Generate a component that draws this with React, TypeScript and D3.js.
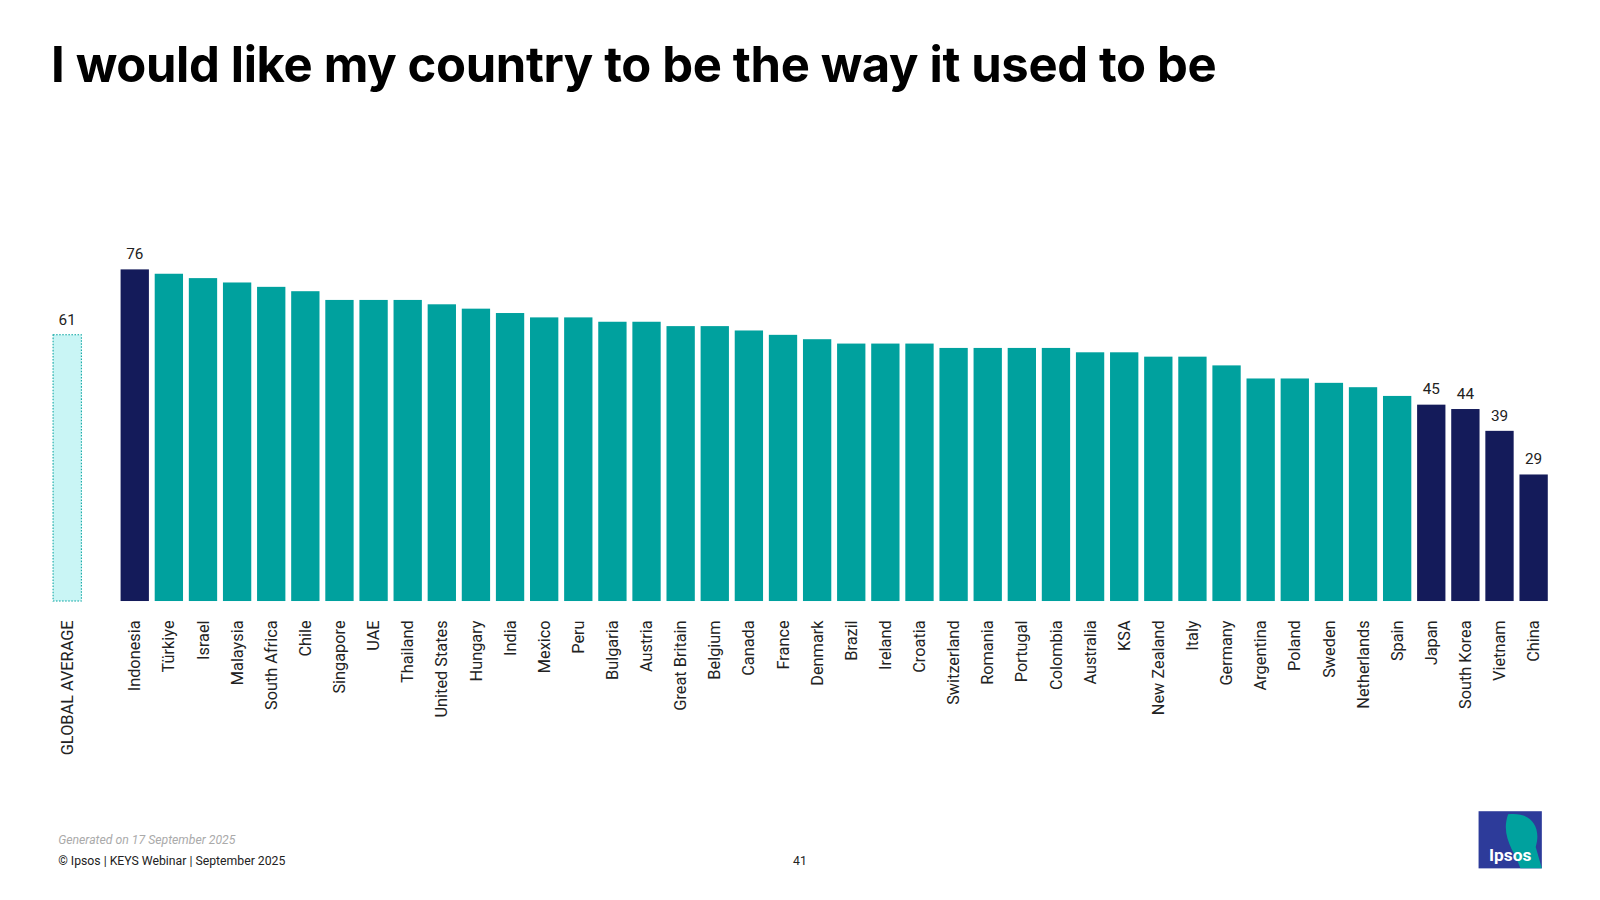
import * as d3 from "d3";

const countries = ["Indonesia","Türkiye","Israel","Malaysia","South Africa","Chile","Singapore","UAE","Thailand","United States","Hungary","India","Mexico","Peru","Bulgaria","Austria","Great Britain","Belgium","Canada","France","Denmark","Brazil","Ireland","Croatia","Switzerland","Romania","Portugal","Colombia","Australia","KSA","New Zealand","Italy","Germany","Argentina","Poland","Sweden","Netherlands","Spain","Japan","South Korea","Vietnam","China"];
const values = [76,75,74,73,72,71,69,69,69,68,67,66,65,65,64,64,63,63,62,61,60,59,59,59,58,58,58,58,57,57,56,56,54,51,51,50,49,47,45,44,39,29];
const highlighted = ["Indonesia","Japan","South Korea","Vietnam","China"];
const globalAverage = 61;

const BASE = 589;
const TEAL = "#00a19e";
const NAVY = "#141b5a";
const FONT = "Roboto, sans-serif";

export default function App() {
  const x = d3.scaleBand<string>().domain(countries).range([115.5, 1519.5]).paddingInner(0.17).paddingOuter(0.08);
  const y = d3.scaleLinear().domain([0, 76]).range([BASE, 264]);
  const bw = x.bandwidth();
  return (
    <svg width={1600} height={900} viewBox="0 0 1568 882" style={{ position: "absolute", left: 0, top: 0, background: "#fff" }} fontFamily={FONT}>
      <text x={50} y={80} fontSize={48} fontWeight={700} fontFamily="Inter, sans-serif" letterSpacing={-0.4} fill="#000" textLength={1142}>I would like my country to be the way it used to be</text>
      {/* global average */}
      <rect x={52} y={y(globalAverage)} width={bw} height={BASE - y(globalAverage)} fill="#c9f5f5" stroke={TEAL} strokeDasharray="1.5 1.5" strokeWidth={1} />
      <text x={52 + bw / 2} y={y(globalAverage) - 10} textAnchor="middle" fontSize={15} fill="#222">{globalAverage}</text>
      <text transform={`translate(${52 + bw / 2 + 5.5},608) rotate(-90)`} textAnchor="end" fontSize={16} fill="#222">GLOBAL AVERAGE</text>
      {countries.map((c, i) => {
        const hx = x(c)!;
        const hi = highlighted.includes(c);
        return (
          <g key={c}>
            <rect x={hx} y={y(values[i])} width={bw} height={BASE - y(values[i])} fill={hi ? NAVY : TEAL} />
            {hi && <text x={hx + bw / 2} y={y(values[i]) - 10} textAnchor="middle" fontSize={15} fill="#222">{values[i]}</text>}
            <text transform={`translate(${hx + bw / 2 + 5.5},608) rotate(-90)`} textAnchor="end" fontSize={16} fill="#222">{c}</text>
          </g>
        );
      })}
      <text x={57} y={827} fontSize={12} fontStyle="italic" fill="#aaa">Generated on 17 September 2025</text>
      <text x={57} y={848} fontSize={12} fill="#222">© Ipsos | KEYS Webinar | September 2025</text>
      <text x={784} y={848} fontSize={12} fill="#222" textAnchor="middle">41</text>
      <g>
        <rect x={1449} y={795} width={62} height={56} fill="#2d3b9a" />
        <path d="M1478,798 C1500,795 1511,810 1505,830 L1511,851 L1490,851 C1485,835 1470,820 1478,798 Z" fill="#00a19e" />
        <text x={1480} y={844} fontSize={17} fontWeight={700} fill="#fff" textAnchor="middle">Ipsos</text>
      </g>
    </svg>
  );
}
